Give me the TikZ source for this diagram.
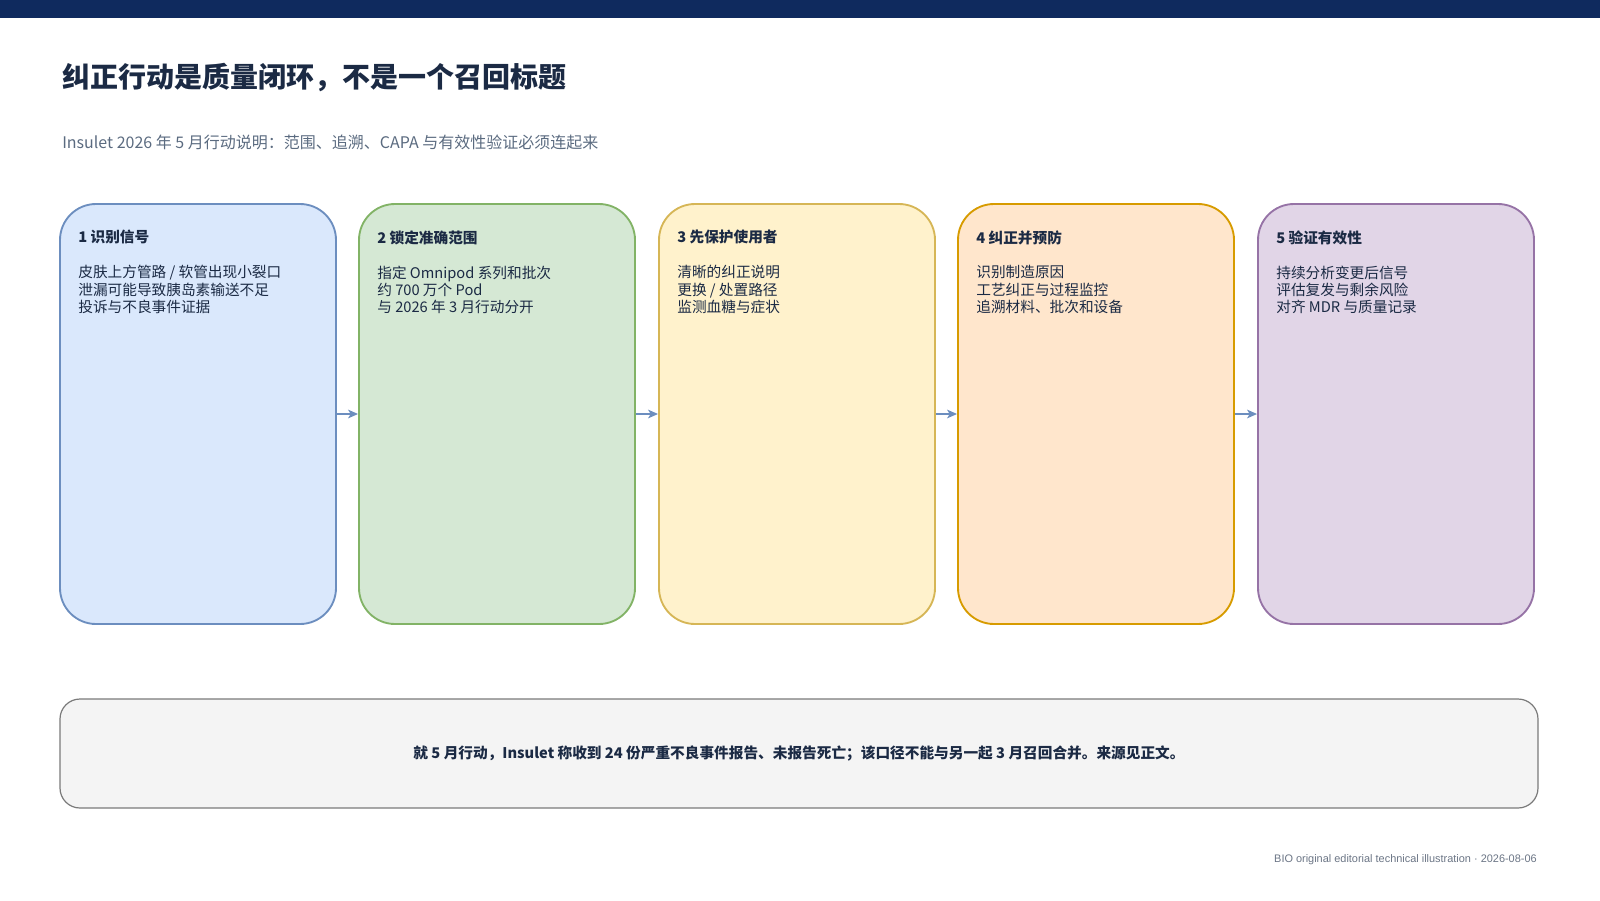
\documentclass[tikz,border=0pt]{standalone}
\usepackage{fontspec}
\setmainfont{Noto Sans CJK SC}
\newfontfamily\footfont{Liberation Sans}
\usepackage{xcolor}
\usetikzlibrary{arrows.meta}
\definecolor{barnavy}{HTML}{0F2A5E}
\definecolor{inktext}{HTML}{1B2A44}
\definecolor{subgray}{HTML}{5B6B80}
\definecolor{footgray}{HTML}{6B7585}
\definecolor{bluefill}{HTML}{DAE8FC}
\definecolor{bluedraw}{HTML}{6C8EBF}
\definecolor{greenfill}{HTML}{D5E8D4}
\definecolor{greendraw}{HTML}{82B366}
\definecolor{yellowfill}{HTML}{FFF2CC}
\definecolor{yellowdraw}{HTML}{D6B656}
\definecolor{orangefill}{HTML}{FFE6CC}
\definecolor{orangedraw}{HTML}{D79B00}
\definecolor{purplefill}{HTML}{E1D5E7}
\definecolor{purpledraw}{HTML}{9673A6}
\definecolor{notefill}{HTML}{F4F4F4}
\definecolor{notedraw}{HTML}{7A7A7A}

\begin{document}
\begin{tikzpicture}[x=0.75pt,y=-0.75pt,
    stagebox/.style={rounded corners=27pt,line width=1.4pt,minimum width=207pt,minimum height=315pt,inner sep=0pt},
    stagetext/.style={anchor=north west,align=left,inner sep=0pt,text=inktext,font=\fontsize{11}{13.1}\selectfont},
    flow/.style={-{Stealth[length=7.5pt,width=6.5pt,inset=2pt]},line width=1.2pt,bluedraw}]
    \useasboundingbox (0,0) rectangle (1600,900);
    \fill[barnavy] (0,0) rectangle (1600,18);
    \node[anchor=west,inner sep=0pt,text=inktext,font=\fontsize{21}{25}\selectfont\bfseries] (title) at (62,78) {纠正行动是质量闭环，不是一个召回标题};
    \node[anchor=west,inner sep=0pt,text=subgray,font=\fontsize{12}{14}\selectfont] (subtitle) at (62,142) {Insulet 2026 年 5 月行动说明：范围、追溯、CAPA 与有效性验证必须连起来};

    \node[stagebox,fill=bluefill,draw=bluedraw] (s1) at (198,414) {};
    \node[stagebox,fill=greenfill,draw=greendraw] (s2) at (497,414) {};
    \node[stagebox,fill=yellowfill,draw=yellowdraw] (s3) at (797,414) {};
    \node[stagebox,fill=orangefill,draw=orangedraw] (s4) at (1096,414) {};
    \node[stagebox,fill=purplefill,draw=purpledraw] (s5) at (1396,414) {};

    \node[stagetext] (t1) at ([shift={(19,27)}]s1.north west) {\textbf{1 识别信号}\\[13.1pt]皮肤上方管路 / 软管出现小裂口\\泄漏可能导致胰岛素输送不足\\投诉与不良事件证据};
    \node[stagetext] (t2) at ([shift={(19,27)}]s2.north west) {\textbf{2 锁定准确范围}\\[13.1pt]指定 Omnipod 系列和批次\\约 700 万个 Pod\\与 2026 年 3 月行动分开};
    \node[stagetext] (t3) at ([shift={(19,27)}]s3.north west) {\textbf{3 先保护使用者}\\[13.1pt]清晰的纠正说明\\更换 / 处置路径\\监测血糖与症状};
    \node[stagetext] (t4) at ([shift={(19,27)}]s4.north west) {\textbf{4 纠正并预防}\\[13.1pt]识别制造原因\\工艺纠正与过程监控\\追溯材料、批次和设备};
    \node[stagetext] (t5) at ([shift={(19,27)}]s5.north west) {\textbf{5 验证有效性}\\[13.1pt]持续分析变更后信号\\评估复发与剩余风险\\对齐 MDR 与质量记录};

    \draw[flow] (s1.east) -- (s2.west);
    \draw[flow] (s2.east) -- (s3.west);
    \draw[flow] (s3.east) -- (s4.west);
    \draw[flow] (s4.east) -- (s5.west);

    \node[rounded corners=15pt,fill=notefill,draw=notedraw,line width=0.9pt,minimum width=1108.5pt,minimum height=81.75pt,text=inktext,font=\fontsize{11}{13}\selectfont\bfseries] (note) at (799,753.5) {就 5 月行动，Insulet 称收到 24 份严重不良事件报告、未报告死亡；该口径不能与另一起 3 月召回合并。来源见正文。};

    \node[anchor=east,inner sep=0pt,text=footgray,font=\footfont\fontsize{8.2}{10}\selectfont] (footer) at (1537,860) {BIO original editorial technical illustration · 2026-08-06};
\end{tikzpicture}
\end{document}
